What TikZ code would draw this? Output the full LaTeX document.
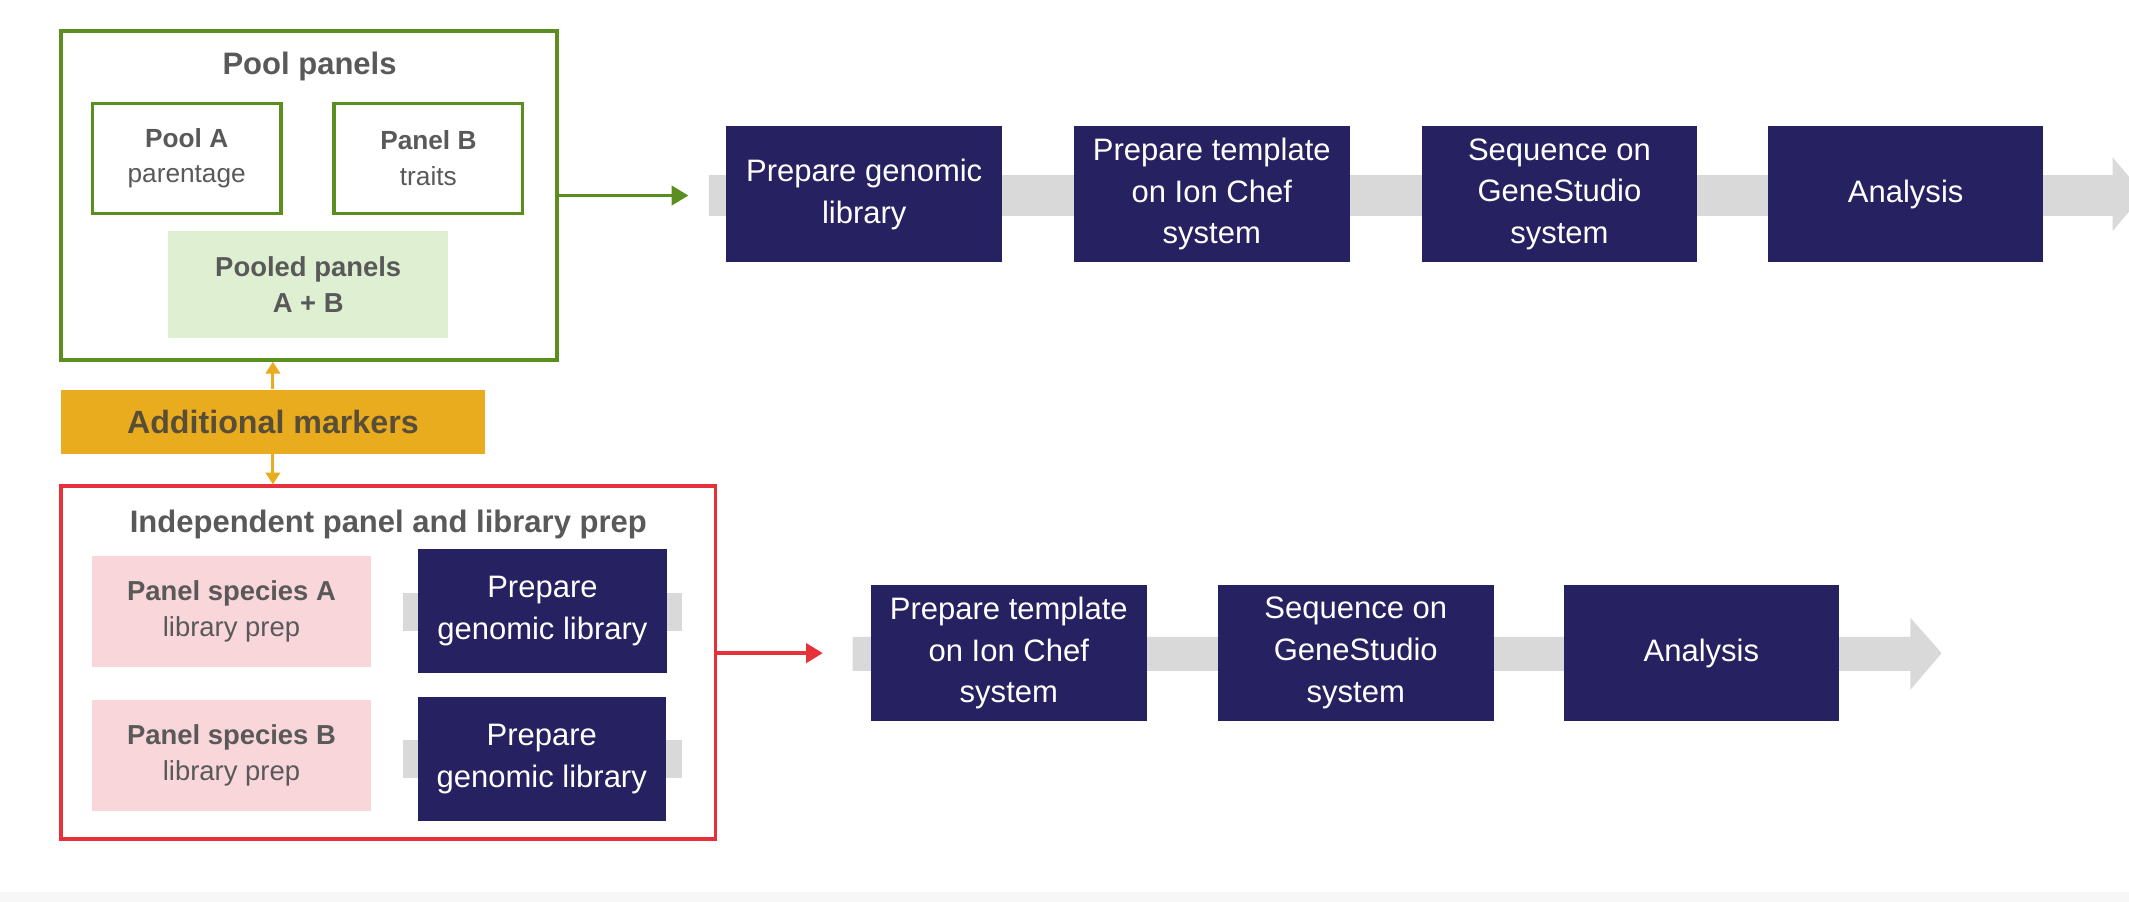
\documentclass[tikz,border=0pt]{standalone}
\usepackage{fontspec}
\setmainfont{Liberation Sans}
\usetikzlibrary{arrows.meta}
\definecolor{navy}{RGB}{38,34,98}
\definecolor{leaf}{RGB}{90,142,30}
\definecolor{leaflight}{RGB}{222,239,210}
\definecolor{gold}{RGB}{232,172,30}
\definecolor{goldtext}{RGB}{88,78,56}
\definecolor{crimson}{RGB}{230,48,58}
\definecolor{blush}{RGB}{249,214,218}
\definecolor{bandgray}{RGB}{217,217,217}
\definecolor{txtgray}{RGB}{89,89,89}
\begin{document}
\begin{tikzpicture}[x=0.02cm,y=-0.02cm,
  stepbox/.style={fill=navy,text=white,inner sep=0pt,minimum width=4.06cm,minimum height=2cm,align=center,font=\fontsize{13}{17.5}\selectfont},
  prepbox/.style={stepbox,minimum width=3.66cm,minimum height=1.84cm},
  framebox/.style={draw,line width=1.6pt,inner sep=0pt},
  panelbox/.style={draw=leaf,line width=1.4pt,inner sep=0pt,minimum width=2.78cm,minimum height=1.62cm,align=center,text=txtgray,font=\fontsize{11}{15}\selectfont},
  speciesbox/.style={fill=blush,inner sep=0pt,minimum width=4.1cm,minimum height=1.64cm,align=center,text=txtgray,font=\fontsize{11.5}{15}\selectfont},
  title/.style={text=txtgray,font=\fontsize{13}{15}\selectfont\bfseries},
  band/.style={fill=bandgray},
  flow/.style={line width=1.5pt,-{Triangle[length=7pt,width=8pt]}}
]
  \clip (0,0) rectangle (1568,664);
  \fill[white] (0,0) rectangle (1568,664);
  \fill[gray!6] (0,657) rectangle (1568,664);
  \fill[band] (522,129) -- (1556,129) -- (1556,116) -- (1579,143) -- (1556,170) -- (1556,159) -- (522,159) -- cycle;
  \fill[band] (628,469) -- (1407,469) -- (1407,455) -- (1430,481) -- (1407,508) -- (1407,494) -- (628,494) -- cycle;
  \fill[band] (297,437) rectangle (502,465);
  \fill[band] (297,545) rectangle (502,573);
  \node[framebox,draw=leaf,minimum width=7.3cm,minimum height=4.84cm] (pool) at (227.5,144) {};
  \node[title] (pooltitle) at (228,49) {Pool panels};
  \node[panelbox] (poola) at (137.5,116.5) {\textbf{Pool A}\\parentage};
  \node[panelbox] (panelb) at (315.5,116.5) {\textbf{Panel B}\\traits};
  \node[panelbox,draw=none,fill=leaflight,minimum width=4.12cm,minimum height=1.58cm,font=\fontsize{11.5}{15}\selectfont\bfseries] (pooled) at (227,209.5) {Pooled panels\\A + B};
  \node[fill=gold,inner sep=0pt,minimum width=6.24cm,minimum height=0.94cm,text=goldtext,font=\fontsize{13.5}{15}\selectfont\bfseries] (markers) at (201,310.5) {Additional markers};
  \node[framebox,draw=crimson,line width=1.4pt,minimum width=9.64cm,minimum height=5.2cm] (indep) at (286,488) {};
  \node[title] (indeptitle) at (286,386) {Independent panel and library prep};
  \node[speciesbox] (speca) at (170.5,450.5) {\textbf{Panel species A}\\library prep};
  \node[speciesbox] (specb) at (170.5,556.5) {\textbf{Panel species B}\\library prep};
  \node[prepbox] (prepa) at (399.5,450) {Prepare\\genomic library};
  \node[prepbox] (prepb) at (399,559) {Prepare\\genomic library};
  \node[stepbox] (libtop) at (636.5,143) {Prepare genomic\\library};
  \node[stepbox] (tpltop) at (892.5,143) {Prepare template\\on Ion Chef\\system};
  \node[stepbox] (seqtop) at (1148.5,143) {Sequence on\\GeneStudio\\system};
  \node[stepbox] (antop) at (1403.5,143) {Analysis};
  \node[stepbox] (tplbot) at (743,481) {Prepare template\\on Ion Chef\\system};
  \node[stepbox] (seqbot) at (998.5,481) {Sequence on\\GeneStudio\\system};
  \node[stepbox] (anbot) at (1253,481) {Analysis};
  \coordinate (topin) at (507,144);
  \coordinate (botin) at (606,481);
  \draw[flow,leaf] (pool.east) -- (topin);
  \draw[flow,crimson] (indep.east |- botin) -- (botin);
  \draw[gold,line width=1.3pt,-{Triangle[length=5pt,width=6pt]}] (markers.north) -- (markers.north |- pool.south);
  \draw[gold,line width=1.3pt,-{Triangle[length=5pt,width=6pt]}] (markers.south) -- (markers.south |- indep.north);
\end{tikzpicture}
\end{document}
